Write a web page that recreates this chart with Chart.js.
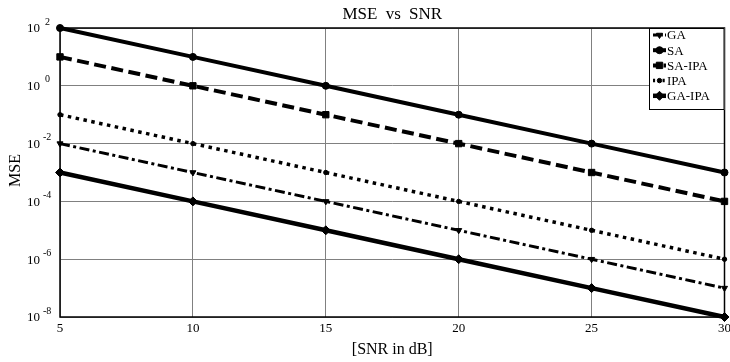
<!DOCTYPE html>
<html><head><meta charset="utf-8">
<script src="https://cdn.jsdelivr.net/npm/chart.js@4/dist/chart.umd.min.js"></script>
<style>html,body{margin:0;padding:0;background:#fff}#wrap{width:730px;height:362px}</style>
</head><body><div id="wrap"><canvas id="c" width="730" height="362"></canvas></div>
<script>
const snr = [5, 10, 15, 20, 25, 30];
const mseGA = [1e-2, 1e-3, 1e-4, 1e-5, 1e-6, 1e-7];
const mseSA = [1e2, 1e1, 1e0, 1e-1, 1e-2, 1e-3];
const mseSAIPA = [1e1, 1e0, 1e-1, 1e-2, 1e-3, 1e-4];
const mseIPA = [1e-1, 1e-2, 1e-3, 1e-4, 1e-5, 1e-6];
const mseGAIPA = [1e-3, 1e-4, 1e-5, 1e-6, 1e-7, 1e-8];
const seriesNames = ['GA', 'SA', 'SA-IPA', 'IPA', 'GA-IPA'];
const xTicks = [5, 10, 15, 20, 25, 30];
const yTickExps = [2, 0, -2, -4, -6, -8];
const titleText = 'MSE vs SNR';
const xTitle = '[SNR in dB]';
const yTitle = 'MSE';

const SERIF = '"Liberation Serif", "Times New Roman", serif';
const pts = arr => arr.map((v, i) => ({x: snr[i], y: v}));

const datasets = [
  {label: seriesNames[0], data: pts(mseGA), borderWidth: 3, borderDash: [10, 3.5, 3, 3.5], pointStyle: 'triangle', pointRadius: 3.5, pointRotation: 180},
  {label: seriesNames[1], data: pts(mseSA), borderWidth: 4, borderDash: [], pointStyle: 'circle', pointRadius: 3.5, pointRotation: 0},
  {label: seriesNames[2], data: pts(mseSAIPA), borderWidth: 4, borderDash: [12, 5.5], pointStyle: 'rect', pointRadius: 4.5, pointRotation: 0},
  {label: seriesNames[3], data: pts(mseIPA), borderWidth: 3.5, borderDash: [3.5, 4.5], pointStyle: 'circle', pointRadius: 2.2, pointRotation: 0},
  {label: seriesNames[4], data: pts(mseGAIPA), borderWidth: 4.5, borderDash: [], pointStyle: 'rectRot', pointRadius: 4.5, pointRotation: 0}
].map(d => Object.assign(d, {
  borderColor: '#000', backgroundColor: '#000', pointBackgroundColor: '#000', pointBorderColor: '#000',
  pointBorderWidth: 1, borderCapStyle: 'butt', borderJoinStyle: 'miter', tension: 0, fill: false, clip: false,
  showLine: true
}));

const decor = {
  id: 'decor',
  beforeDraw(chart) {
    const ctx = chart.ctx;
    ctx.save();
    ctx.fillStyle = '#fff';
    ctx.fillRect(0, 0, chart.width, chart.height);
    ctx.restore();
  },
  beforeDatasetsDraw(chart) {
    const ctx = chart.ctx, a = chart.chartArea;
    ctx.save();
    ctx.strokeStyle = '#000';
    ctx.lineWidth = 1.5;
    ctx.strokeRect(a.left, a.top, a.right - a.left, a.bottom - a.top);
    ctx.restore();
  },
  afterDraw(chart) {
    const ctx = chart.ctx, a = chart.chartArea, ys = chart.scales.y;
    ctx.save();
    ctx.fillStyle = '#000';
    yTickExps.forEach(e => {
      const py = ys.getPixelForValue(Math.pow(10, e));
      ctx.font = '13px ' + SERIF;
      ctx.textAlign = 'left';
      ctx.textBaseline = 'middle';
      ctx.fillText('10', 27, py + 1);
      ctx.font = '10px ' + SERIF;
      ctx.fillText(String(e), e < 0 ? 43 : 45, py - 6);
    });
    ctx.font = '17px ' + SERIF;
    ctx.textAlign = 'center';
    ctx.textBaseline = 'middle';
    if ('wordSpacing' in ctx) ctx.wordSpacing = '4px';
    ctx.fillText(titleText, (a.left + a.right) / 2, 15);
    if ('wordSpacing' in ctx) ctx.wordSpacing = '0px';
    ctx.font = '16px ' + SERIF;
    ctx.fillText(xTitle, (a.left + a.right) / 2, 350);
    ctx.save();
    ctx.translate(16, (a.top + a.bottom) / 2 - 2);
    ctx.rotate(-Math.PI / 2);
    ctx.fillText(yTitle, 0, 0);
    ctx.restore();
    const bx = 649, by = 28, bw = a.right - 649, bh = 82;
    ctx.fillStyle = '#fff';
    ctx.fillRect(bx, by, bw, bh);
    ctx.strokeStyle = '#000';
    ctx.lineWidth = 1;
    ctx.strokeRect(bx + 0.5, by + 0.5, bw - 1, bh - 1);
    chart.data.datasets.forEach((ds, i) => {
      const yy = 35 + i * 15.2;
      ctx.save();
      ctx.strokeStyle = '#000';
      ctx.lineWidth = ds.borderWidth;
      ctx.lineCap = 'butt';
      ctx.setLineDash(ds.borderDash.length ? ds.borderDash.map(v => v * 0.6) : []);
      ctx.beginPath();
      ctx.moveTo(653, yy);
      ctx.lineTo(666, yy);
      ctx.stroke();
      ctx.setLineDash([]);
      ctx.fillStyle = '#000';
      ctx.lineWidth = 1;
      Chart.helpers.drawPoint(ctx, {pointStyle: ds.pointStyle, radius: ds.pointRadius, rotation: ds.pointRotation, borderWidth: 1}, 659.5, yy);
      ctx.restore();
      ctx.fillStyle = '#000';
      ctx.font = '13px ' + SERIF;
      ctx.textAlign = 'left';
      ctx.textBaseline = 'middle';
      ctx.fillText(ds.label, 667, yy + 1);
    });
    ctx.restore();
  }
};

new Chart(document.getElementById('c'), {
  type: 'line',
  data: {datasets},
  options: {
    responsive: false,
    animation: false,
    devicePixelRatio: 1,
    layout: {padding: {top: 28, right: 5, left: 0, bottom: 0}},
    plugins: {legend: {display: false}, title: {display: false}, tooltip: {enabled: false}},
    scales: {
      x: {
        type: 'linear', min: 5, max: 30,
        afterBuildTicks: s => { s.ticks = xTicks.map(v => ({value: v})); },
        afterFit: s => { s.height = 45; s.paddingLeft = 0; s.paddingRight = 0; },
        ticks: {color: '#000', font: {family: SERIF, size: 13}, padding: 4, maxRotation: 0},
        grid: {color: '#808080', lineWidth: 1, drawTicks: false},
        border: {display: false}
      },
      y: {
        type: 'logarithmic', min: 1e-8, max: 1e2,
        afterBuildTicks: s => { s.ticks = yTickExps.map(e => ({value: Math.pow(10, e)})); },
        afterFit: s => { s.width = 60; s.paddingTop = 0; s.paddingBottom = 0; },
        ticks: {display: false},
        grid: {color: '#808080', lineWidth: 1, drawTicks: false},
        border: {display: false}
      }
    }
  },
  plugins: [decor]
});
</script>
</body></html>
